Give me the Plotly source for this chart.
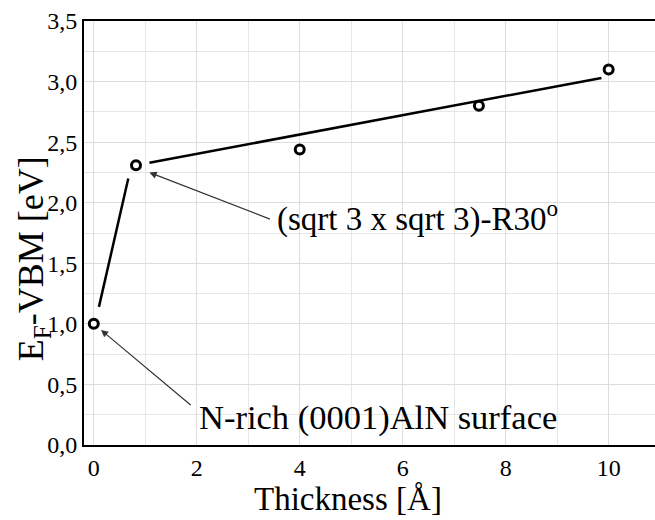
import plotly.graph_objects as go

# Data points
thickness = [0.0, 0.82, 4.0, 7.48, 10.0]
ef_vbm = [1.00, 2.31, 2.44, 2.80, 3.10]

# Guide lines (drawn with gaps near markers)
line1_x = [0.10, 0.67]
line1_y = [1.14, 2.20]
line2_x = [1.08, 9.86]
line2_y = [2.33, 3.03]

x_tickvals = [0, 2, 4, 6, 8, 10]
y_tickvals = [0.0, 0.5, 1.0, 1.5, 2.0, 2.5, 3.0, 3.5]

FONT = "Liberation Serif, Times New Roman, serif"

fig = go.Figure()
for lx, ly in [(line1_x, line1_y), (line2_x, line2_y)]:
    fig.add_trace(go.Scatter(x=lx, y=ly, mode="lines",
                             line=dict(color="black", width=2.5),
                             showlegend=False, hoverinfo="skip"))
fig.add_trace(go.Scatter(x=thickness, y=ef_vbm, mode="markers",
                         marker=dict(symbol="circle", size=9, color="white",
                                     line=dict(color="black", width=3)),
                         showlegend=False))

# Arrows
arrows = [
    dict(tail=(3.45, 1.86), head=(1.08, 2.25)),
    dict(tail=(1.91, 0.32), head=(0.14, 0.95)),
]
for a in arrows:
    fig.add_annotation(x=a["head"][0], y=a["head"][1], ax=a["tail"][0], ay=a["tail"][1],
                       xref="x", yref="y", axref="x", ayref="y",
                       text=" ", showarrow=True, arrowhead=2, arrowsize=1.2,
                       arrowwidth=1.2, arrowcolor="#333333", standoff=0, startstandoff=0,
                       font=dict(size=1))

fig.add_annotation(x=3.51, y=1.885, xref="x", yref="y", xanchor="left", yanchor="middle",
                   text="(sqrt 3 x sqrt 3)-R30<sup>o</sup>", showarrow=False,
                   font=dict(family=FONT, size=33, color="black"))
fig.add_annotation(x=2.0, y=0.225, xref="x", yref="y", xanchor="left", yanchor="middle",
                   text="N-rich (0001)AlN surface", showarrow=False,
                   font=dict(family=FONT, size=34.5, color="black"))

# Axis titles as annotations for exact placement
fig.add_annotation(x=-0.088, y=0.44, xref="paper", yref="paper", xanchor="center", yanchor="middle",
                   text="E<sub>F</sub>-VBM [eV]", textangle=-90, showarrow=False,
                   font=dict(family=FONT, size=36, color="black"))
fig.add_annotation(x=0.4615, y=-0.128, xref="paper", yref="paper", xanchor="center", yanchor="middle",
                   text="Thickness [Å]", showarrow=False,
                   font=dict(family=FONT, size=33, color="black"))

fig.update_layout(
    width=655, height=520,
    margin=dict(l=84, r=0, t=21, b=75),
    paper_bgcolor="white", plot_bgcolor="white",
    separators=", ",
    font=dict(family=FONT, color="black"),
    showlegend=False,
)
fig.update_xaxes(
    range=[-0.19, 10.9], tickvals=x_tickvals, ticktext=[str(v) for v in x_tickvals],
    showgrid=True, gridcolor="#dddddd", gridwidth=1,
    minor=dict(dtick=1, showgrid=True, gridcolor="#e6e6e6", gridwidth=1),
    showline=True, linecolor="black", linewidth=2, mirror=True,
    ticks="", zeroline=False, automargin=False,
    tickfont=dict(family=FONT, size=24, color="black"),
)
fig.update_yaxes(
    range=[0, 3.5], tickvals=y_tickvals, tickformat=".1f",
    showgrid=True, gridcolor="#dddddd", gridwidth=1,
    minor=dict(dtick=0.25, showgrid=True, gridcolor="#e6e6e6", gridwidth=1),
    showline=True, linecolor="black", linewidth=2, mirror=False,
    ticks="", zeroline=False, automargin=False,
    tickfont=dict(family=FONT, size=24, color="black"),
)

fig.write_html(
    "out.html",
    config={"displayModeBar": False},
    post_script="document.body.style.margin='0';document.body.style.overflow='hidden';",
)
